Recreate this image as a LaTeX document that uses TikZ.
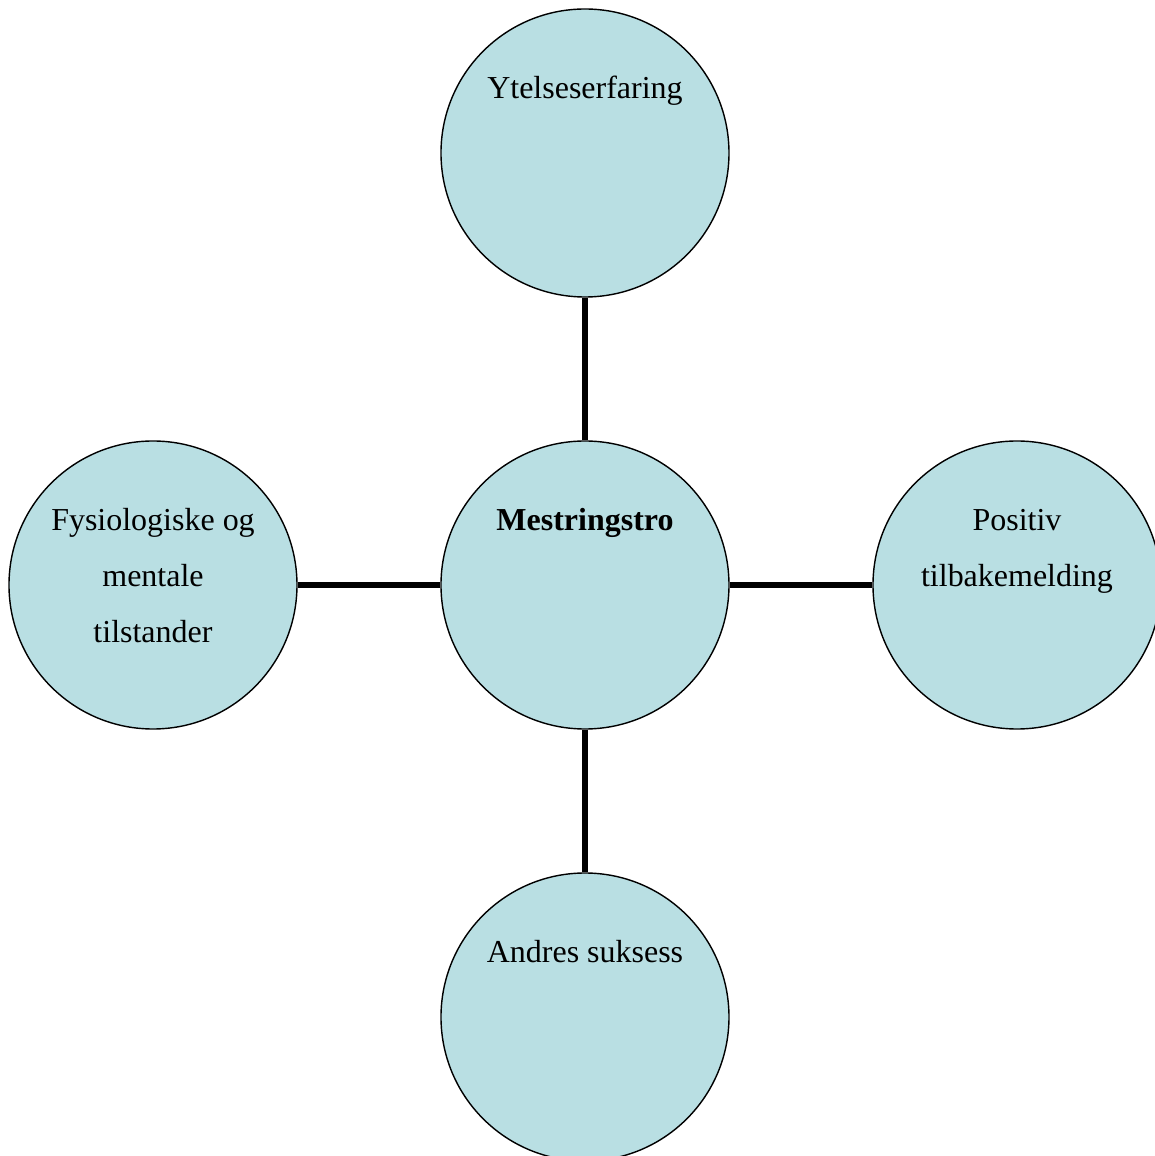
\documentclass[tikz,border=0pt]{standalone}
\usepackage{fontspec}
\setmainfont{Liberation Serif}
\usetikzlibrary{positioning}
\definecolor{bubblefill}{RGB}{185,223,227}
\begin{document}
\begin{tikzpicture}[
    node distance=8.64cm,
    bubble/.style={circle,draw,line width=0.8pt,fill=bubblefill,minimum size=5.76cm,inner sep=0pt},
    caption/.style={anchor=base,align=center,font=\fontsize{18.2}{31.9}\selectfont},
    link/.style={line width=3pt}
]
    \useasboundingbox (-11.7,-11.42) rectangle (11.38,11.7);
    % Define nodes
    \node[bubble] (mid) {};
    \node[bubble] (top) [above of=mid] {};
    \node[bubble] (bottom) [below of=mid] {};
    \node[bubble] (left) [left of=mid] {};
    \node[bubble] (right) [right of=mid] {};

    % Texts near the top of each circle (base = last line)
    \node[caption] (mid-txt) at ([yshift=-1.8cm]mid.north) {\textbf{Mestringstro}};
    \node[caption] (top-txt) at ([yshift=-1.8cm]top.north) {Ytelseserfaring};
    \node[caption] (bottom-txt) at ([yshift=-1.8cm]bottom.north) {Andres suksess};
    \node[caption] (left-txt) at ([yshift=-4.04cm]left.north) {Fysiologiske og\\mentale\\tilstander};
    \node[caption] (right-txt) at ([yshift=-2.92cm]right.north) {Positiv\\tilbakemelding};

    % Draw connections
    \draw[link] (mid) -- (top);
    \draw[link] (mid) -- (bottom);
    \draw[link] (mid) -- (left);
    \draw[link] (mid) -- (right);
\end{tikzpicture}
\end{document}
